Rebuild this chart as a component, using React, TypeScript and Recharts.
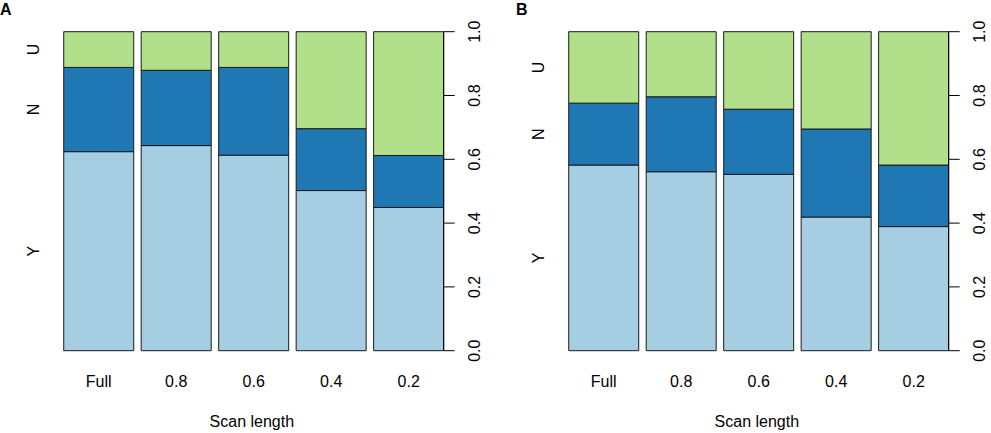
import React from 'react';
import { ComposedChart, Bar, Line, XAxis, YAxis } from 'recharts';

const scanLengths = ['Full', '0.8', '0.6', '0.4', '0.2'];
const outcomes = ['Y', 'N', 'U'];
const valueTicks = [0, 0.2, 0.4, 0.6, 0.8, 1.0];

// panel A
const yA = [0.624, 0.643, 0.613, 0.502, 0.449];
const nA = [0.264, 0.236, 0.275, 0.194, 0.163];
const uA = [0.112, 0.121, 0.112, 0.304, 0.388];

// panel B
const yB = [0.582, 0.561, 0.553, 0.419, 0.389];
const nB = [0.194, 0.235, 0.204, 0.276, 0.193];
const uB = [0.224, 0.204, 0.243, 0.305, 0.418];

const COLORS: Record<string, string> = { Y: '#a6cee3', N: '#1f78b4', U: '#b2df8a' };
const FONT = '"Liberation Sans", Arial, Helvetica, sans-serif';

function RightTick({ x, y, payload }: any) {
  return (
    <text
      transform={`translate(${x},${y}) rotate(-90)`}
      textAnchor="middle"
      dominantBaseline="central"
      fontSize={16}
      fill="#000"
      fontFamily={FONT}
    >
      {Number(payload.value).toFixed(1)}
    </text>
  );
}

function XTick({ x, y, payload }: any) {
  return (
    <text x={x} y={y + 31} textAnchor="middle" dominantBaseline="central" fontSize={16} fill="#000" fontFamily={FONT}>
      {payload.value}
    </text>
  );
}

function Panel({ Y, N, U, width, rightWidth }: { Y: number[]; N: number[]; U: number[]; width: number; rightWidth: number }) {
  const rows = scanLengths.map((s, i) => ({ scan: s, Y: Y[i], N: N[i], U: U[i] }));
  // group labels sit at the middle of each segment of the first bar
  const mids = [Y[0] / 2, Y[0] + N[0] / 2, Y[0] + N[0] + U[0] / 2];
  const LeftTick = ({ x, y, index }: any) => (
    <text
      transform={`translate(${x},${y}) rotate(-90)`}
      textAnchor="middle"
      dominantBaseline="central"
      fontSize={16}
      fill="#000"
      fontFamily={FONT}
    >
      {outcomes[index]}
    </text>
  );

  return (
    <ComposedChart
      width={width}
      height={433}
      data={rows}
      margin={{ top: 31.7, right: 0, bottom: 0, left: 0 }}
      barCategoryGap="4.8%"
    >
      <XAxis
        dataKey="scan"
        axisLine={false}
        tickLine={false}
        tickSize={0}
        tickMargin={0}
        height={82.3}
        padding={{ left: 0, right: -3.7 }}
        tick={<XTick />}
        interval={0}
        label={{ value: 'Scan length', position: 'insideBottom', offset: 6, fontSize: 16, fill: '#000', fontFamily: FONT }}
      />
      <YAxis
        yAxisId="lab"
        orientation="left"
        type="number"
        width={60}
        domain={[0, 1]}
        allowDataOverflow
        ticks={mids}
        axisLine={false}
        tickLine={false}
        tickSize={0}
        tickMargin={27}
        interval={0}
        tick={<LeftTick />}
      />
      <YAxis
        yAxisId="val"
        orientation="right"
        width={rightWidth}
        domain={[0, 1]}
        ticks={valueTicks}
        interval={0}
        axisLine={{ stroke: '#000', strokeWidth: 1 }}
        tickLine={{ stroke: '#000', strokeWidth: 1 }}
        tickSize={11}
        tickMargin={20}
        tick={<RightTick />}
      />
      {outcomes.map((k) => (
        <Bar
          key={k}
          dataKey={k}
          stackId="s"
          yAxisId="val"
          fill={COLORS[k]}
          stroke="#1a1a1a"
          strokeWidth={1}
          isAnimationActive={false}
        />
      ))}
      {/* invisible series so the label axis has data bound to it */}
      <Line yAxisId="lab" dataKey="Y" stroke="none" dot={false} activeDot={false} legendType="none" isAnimationActive={false} />
    </ComposedChart>
  );
}

export default function App() {
  return (
    <div style={{ position: 'absolute', left: 0, top: 0, width: 991, height: 433, background: '#fff', fontFamily: FONT }}>
      <div style={{ position: 'absolute', left: 0, top: 0 }}>
        <Panel Y={yA} N={nA} U={uA} width={505} rightWidth={61.3} />
      </div>
      <div style={{ position: 'absolute', left: 505, top: 0 }}>
        <Panel Y={yB} N={nB} U={uB} width={486} rightWidth={42.3} />
      </div>
      <div style={{ position: 'absolute', left: 0, top: 1, fontSize: 16, fontWeight: 'bold', lineHeight: '18px' }}>A</div>
      <div style={{ position: 'absolute', left: 516, top: 1, fontSize: 16, fontWeight: 'bold', lineHeight: '18px' }}>B</div>
    </div>
  );
}
